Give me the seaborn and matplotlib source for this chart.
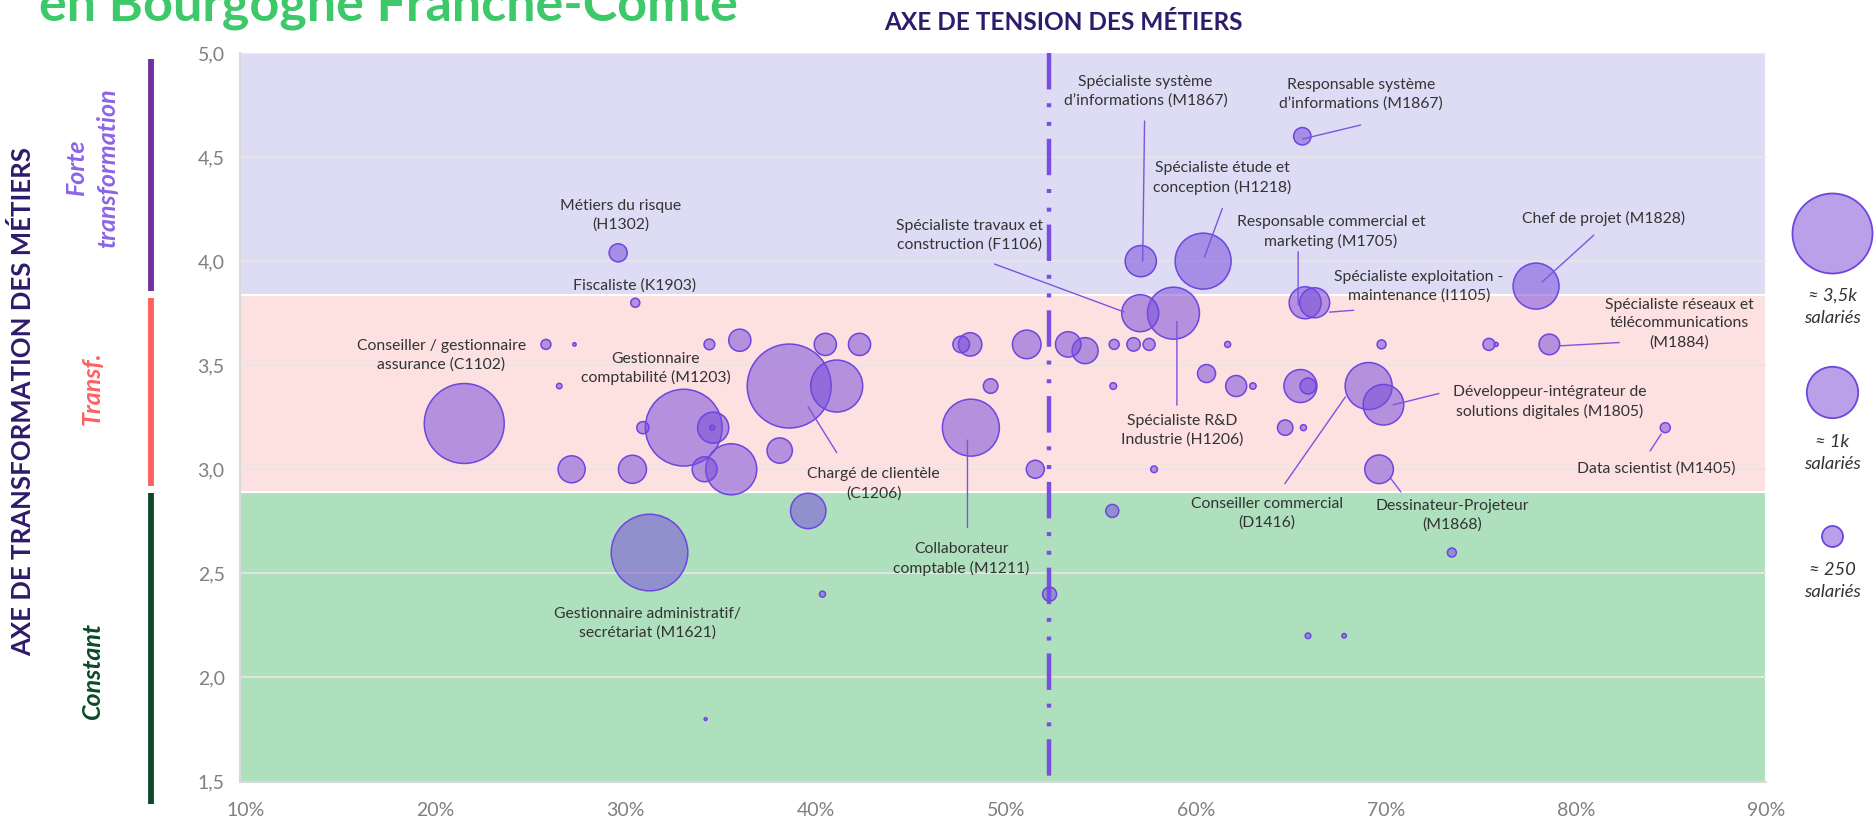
import matplotlib
matplotlib.use("Agg")
import matplotlib.pyplot as plt
import seaborn as sns
import pandas as pd

# taux de tension (%), indice de transformation, effectif salarié
tension = [21.5, 25.8, 27.3, 26.5, 29.6, 30.5, 30.9, 33.05, 34.6, 34.55,
           34.4, 36.0, 38.6, 40.5, 42.3, 41.1, 38.1, 27.15, 30.35, 34.15,
           35.55, 39.6, 31.25, 40.35, 34.2, 47.65, 48.12, 51.1, 49.2, 48.16,
           51.55, 52.3, 55.6, 53.28, 54.17, 55.7, 56.72, 57.54, 61.67, 57.07,
           58.82, 60.56, 62.12, 63.0, 55.65, 57.8, 57.1, 60.38, 65.6, 65.75,
           66.25, 77.9, 69.77, 75.42, 75.8, 78.6, 65.5, 65.9, 69.09, 69.87,
           64.7, 65.66, 84.7, 69.64, 73.47, 65.9, 67.8]
transformation = [3.22, 3.6, 3.6, 3.4, 4.04, 3.8, 3.2, 3.2, 3.2, 3.2,
                  3.6, 3.62, 3.4, 3.6, 3.6, 3.4, 3.09, 3.0, 3.0, 3.0,
                  3.0, 2.8, 2.6, 2.4, 1.8, 3.6, 3.6, 3.6, 3.4, 3.2,
                  3.0, 2.4, 2.8, 3.6, 3.57, 3.6, 3.6, 3.6, 3.6, 3.75,
                  3.75, 3.46, 3.4, 3.4, 3.4, 3.0, 4.0, 4.0, 4.6, 3.8,
                  3.8, 3.88, 3.6, 3.6, 3.6, 3.6, 3.4, 3.4, 3.4, 3.31,
                  3.2, 3.2, 3.2, 3.0, 2.6, 2.2, 2.2]
effectif = [3900, 60, 7, 18, 200, 50, 90, 3600, 590, 15,
            70, 300, 4300, 300, 300, 1650, 390, 445, 480, 380,
            1590, 765, 3580, 22, 5, 168, 334, 500, 130, 1980,
            198, 120, 103, 394, 413, 61, 110, 88, 22, 835,
            1650, 198, 269, 25, 27, 27, 594, 1914, 185, 625,
            549, 1291, 49, 88, 10, 259, 665, 156, 1348, 1006,
            145, 22, 61, 499, 49, 19, 12]

seuil_tension = 52.25
zones = ["Constant", "Transf.", "Forte\ntransformation"]
zone_limites = [1.5, 2.89, 3.835, 5.0]
x_ticks = [10, 20, 30, 40, 50, 60, 70, 80, 90]
y_ticks = [1.5, 2.0, 2.5, 3.0, 3.5, 4.0, 4.5, 5.0]
legende_valeurs = ["≈ 3,5k\nsalariés", "≈ 1k\nsalariés", "≈ 250\nsalariés"]

# libellés : texte, position du texte, trait de rappel
libelles = [
    ("Métiers du risque\n(H1302)", 29.72, 4.22, None),
    ("Fiscaliste (K1903)", 30.47, 3.883, None),
    ("Conseiller / gestionnaire\nassurance (C1102)", 20.3, 3.547, None),
    ("Gestionnaire\ncomptabilité (M1203)", 31.58, 3.484, None),
    ("Chargé de clientèle\n(C1206)", 43.05, 2.93, ((41.1, 3.08), (39.6, 3.30))),
    ("Gestionnaire administratif/\nsecrétariat (M1621)", 31.12, 2.26, None),
    ("Collaborateur\ncomptable (M1211)", 47.67, 2.571, ((47.98, 2.72), (47.98, 3.14))),
    ("Spécialiste système\nd’informations (M1867)", 57.35, 4.814, ((57.3, 4.673), (57.2, 4.0))),
    ("Responsable système\nd’informations (M1867)", 68.67, 4.80, ((68.67, 4.654), (65.62, 4.587))),
    ("Spécialiste étude et\nconception (H1218)", 61.39, 4.40, ((61.39, 4.253), (60.45, 4.02))),
    ("Spécialiste travaux et\nconstruction (F1106)", 48.1, 4.122, ((49.41, 3.986), (56.22, 3.756))),
    ("Responsable commercial et\nmarketing (M1705)", 67.1, 4.138, ((65.38, 4.045), (65.38, 3.79))),
    ("Spécialiste exploitation -\nmaintenance (I1105)", 71.73, 3.877, ((68.3, 3.764), (67.03, 3.755))),
    ("Chef de projet (M1828)", 81.45, 4.205, ((80.94, 4.125), (78.22, 3.90))),
    ("Spécialiste R&D\nIndustrie (H1206)", 59.3, 3.186, ((59.0, 3.308), (59.0, 3.71))),
    ("Conseiller commercial\n(D1416)", 63.74, 2.787, ((64.68, 2.931), (67.87, 3.348))),
    ("Dessinateur-Projeteur\n(M1868)", 73.49, 2.779, ((70.79, 2.891), (70.26, 2.955))),
    ("Développeur-intégrateur de\nsolutions digitales (M1805)", 78.62, 3.324, ((72.79, 3.364), (70.39, 3.31))),
    ("Data scientist (M1405)", 84.2, 3.003, ((83.9, 3.088), (84.49, 3.17))),
    ("Spécialiste réseaux et\ntélécommunications\n(M1884)", 85.44, 3.70, ((82.28, 3.609), (79.12, 3.593))),
]

df = pd.DataFrame({"tension": tension, "transformation": transformation,
                   "effectif": effectif})
df = df.sort_values("effectif", ascending=False)

sns.set_style("white")
plt.rcParams["font.family"] = ["Lato", "DejaVu Sans"]

W, H = 1875, 822
fig = plt.figure(figsize=(W / 100, H / 100), dpi=100)
ax = fig.add_axes([240 / W, 1 - 781.5 / H, 1526 / W, 728.5 / H])

band_colors = ["#aee0bd", "#fde0e0", "#dedcf5"]
for i in range(3):
    ax.axhspan(zone_limites[i], zone_limites[i + 1], facecolor=band_colors[i],
               edgecolor="white", lw=1.5, zorder=0.8)

ax.set_axisbelow("line")
ax.yaxis.grid(True, color="#e6e6e6", lw=1.3)
ax.xaxis.grid(False)

ax.plot([seuil_tension, seuil_tension], [5.0, 1.5], color="#7a4fe0", lw=3.2,
        dashes=(8.2, 3.1, 0.9, 3.3, 0.9, 2.9), dash_capstyle="butt", zorder=2)

bubble_max = 5000
sns.scatterplot(data=df, x="tension", y="transformation", size="effectif",
                sizes=(0, 0.849 * bubble_max), size_norm=(0, bubble_max),
                color=(0.47, 0.31, 0.86, 0.55), edgecolor="#6f45e0",
                linewidth=1.1, legend=False, ax=ax, zorder=3)

for txt, tx, ty, line in libelles:
    ax.text(tx, ty, txt, ha="center", va="center", fontsize=11.3,
            color="#333333", linespacing=1.4, zorder=5)
    if line is not None:
        ax.annotate("", xy=line[1], xytext=line[0],
                    arrowprops=dict(arrowstyle="-", color="#7a55e0", lw=1.0,
                                    shrinkA=0, shrinkB=0), zorder=4)

ax.set_xlim(9.7, 90)
ax.set_ylim(1.5, 5.0)
ax.set_xticks(x_ticks)
ax.set_xticklabels([f"{v}%" for v in x_ticks])
ax.set_yticks(y_ticks)
ax.set_yticklabels([f"{v:.1f}".replace(".", ",") for v in y_ticks])
ax.tick_params(length=0, colors="#808080", labelsize=14)
ax.tick_params(axis="x", pad=15)
ax.tick_params(axis="y", pad=11)
ax.set_xlabel("")
ax.set_ylabel("")
for s in ["top", "right"]:
    ax.spines[s].set_visible(False)
for s in ["left", "bottom"]:
    ax.spines[s].set_color("#d9d9d9")
    ax.spines[s].set_linewidth(1.5)

# décor hors graphique, en pixels de la figure
deco = fig.add_axes([0, 0, 1, 1])
deco.set_xlim(0, W)
deco.set_ylim(H, 0)
deco.axis("off")

zone_colors = ["#0a4a28", "#ff5f5f", "#7030a0"]
zone_text_colors = ["#0a4a28", "#ff5f5f", "#8c64e6"]
zone_bars = [(493, 804), (298, 486), (59, 291)]
zone_text_y = [670, 388, 168]
for i in range(3):
    deco.plot([151, 151], zone_bars[i], color=zone_colors[i], lw=4.2,
              solid_capstyle="butt")
    deco.text(92, zone_text_y[i], zones[i], rotation=90,
              ha="center", va="center", fontsize=18, fontstyle="italic",
              fontweight="bold", color=zone_text_colors[i], linespacing=1.4,
              multialignment="center")

leg_y = [233, 392, 536]
leg_r = [40, 25.7, 10.5]
leg_text_y = [307, 453, 581]
for i in range(3):
    deco.scatter([1832], [leg_y[i]], s=(2 * leg_r[i] * 0.72) ** 2,
                 color=(0.55, 0.38, 0.86, 0.6), edgecolor="#6f45e0",
                 linewidth=1.3)
    deco.text(1832, leg_text_y[i], legende_valeurs[i], ha="center", va="center",
              fontsize=13.2, fontstyle="italic", color="#333333",
              linespacing=1.45)

fig.text(39 / W, 1 - 21 / H, "en Bourgogne Franche-Comté", fontsize=37.5,
         fontweight="bold", color="#3dc86a", va="baseline", ha="left")
fig.text(1063 / W, 1 - 22 / H, "AXE DE TENSION DES MÉTIERS", fontsize=17.6,
         fontweight="bold", color="#2d1b6b", ha="center", va="center")
fig.text(23 / W, 1 - 402 / H, "AXE DE TRANSFORMATION DES MÉTIERS", fontsize=18.5,
         fontweight="bold", color="#2d1b6b", ha="center", va="center",
         rotation=90)

fig.savefig("out.png", dpi=100)
